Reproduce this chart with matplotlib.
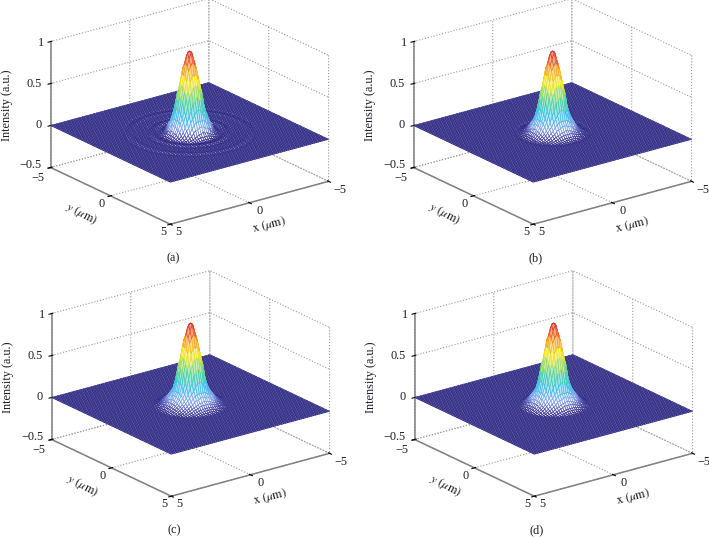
import numpy as np
import matplotlib
matplotlib.use("Agg")
import matplotlib.pyplot as plt
from matplotlib.colors import LinearSegmentedColormap

plt.rcParams['font.family'] = ['Liberation Serif', 'DejaVu Serif']
plt.rcParams['mathtext.fontset'] = 'stix'

W, H = 709, 537
panel_labels = ['(a)', '(b)', '(c)', '(d)']
panel_x = [49, 412, 50, 413]
panel_y = [125, 125, 397, 397]

# radial intensity profiles (r step = 0.05 um)
radial_step = 0.05
main_lobe = [.97,.965,.95,.93,.895,.855,.81,.76,.70,.64,.585,.525,.47,.41,.36,.31,.265,.225,.19]
profile_a = main_lobe + [.16,.13,.105,.08,.06,.045,.03,.02,.012,.006,.0,-.004,-.005,-.005,-.003,-.001,.001,.003,.004,.004,.003,.001,-.001,-.002,-.003,-.002,-.001,0,0,0,0,0,0,0,0,0,0,0,.001,.002,.003,.003,.002,.001,0,-.001,-.002,-.003,-.002,-.001,0]
profile_b = main_lobe + [.165,.14,.12,.10,.085,.07,.058,.047,.037,.028,.02,.014,.009,.005,.002,0,-.002,-.003,-.003,-.002,-.001,0]
profile_c = main_lobe + [.17,.15,.13,.115,.10,.088,.077,.066,.056,.047,.039,.031,.024,.018,.013,.009,.005,.002,0]
profile_d = main_lobe + [.17,.15,.13,.115,.10,.087,.075,.063,.052,.042,.033,.025,.018,.013,.008,.004,.001,0]
profiles = [profile_a, profile_b, profile_c, profile_d]

x_ticks = [-5, 0, 5]
y_ticks = [-5, 0, 5]
z_ticks = [-0.5, 0, 0.5, 1]
z_ticklabels = ['\u22120.5', '0', '0.5', '1']
xy_ticklabels = ['\u22125', '0', '5']

# label positions in pixels, relative to each panel's left corner at z = 0
x_label_pos = [(291, 65), (211, 86), (129, 107)]
y_label_pos = [(-11, 53), (53, 79), (114, 107)]
z_label_pos = [(-7, 40), (-7, 0), (-7, -41), (-5, -82)]

grid_axis = np.linspace(-5, 5, 81)

cmap = LinearSegmentedColormap.from_list('m', [
    (0.0, '#25207f'), (0.03, '#3a389e'), (0.10, '#7f9ee8'), (0.26, '#35c0ee'),
    (0.42, '#45d09a'), (0.55, '#c8e040'), (0.65, '#fbe51e'), (0.78, '#f79a20'),
    (0.92, '#e03a28'), (1.0, '#c8202a')])

fig = plt.figure(figsize=(W / 100, H / 100), dpi=100)
AX = 340
GRID = '#9a9a9a'
AXC = '#808080'
TC = '#1c1c28'
FS = 8.8

for i in range(4):
    cx = panel_x[i] + 140.5 - 4.5
    cy = panel_y[i] + 7 - 0.25 * 82.7 + 4.7
    ax = fig.add_axes([(cx - AX / 2) / W, 1 - (cy + AX / 2) / H, AX / W, AX / H],
                      projection='3d', proj_type='ortho')
    ax.patch.set_alpha(0)
    ax.view_init(elev=21, azim=52.9)
    ax.set_box_aspect((200, 200, 136), zoom=0.889)
    ax.set_xlim(-5, 5, view_margin=0)
    ax.set_ylim(-5, 5, view_margin=0)
    ax.set_zlim(-0.5, 1, view_margin=0)

    X, Y = np.meshgrid(grid_axis, grid_axis)
    prof = np.array(profiles[i])
    idx = np.rint(np.hypot(X, Y) / radial_step).astype(int)
    Z = np.where(idx < len(prof), prof[np.minimum(idx, len(prof) - 1)], 0.0)
    zc = np.clip(Z, 0, 1)
    surf = ax.plot_surface(X, Y, Z, rstride=1, cstride=1, facecolors=cmap(zc),
                           shade=False, linewidth=0.48, antialiased=True)
    cm = 0.25 * (zc[:-1, :-1] + zc[1:, :-1] + zc[:-1, 1:] + zc[1:, 1:])
    edge = cmap(cm).reshape(-1, 4)
    # faces: tinted toward white higher up, where the mesh reads as colour
    mix = np.clip((cm.ravel() - 0.10) / 0.2, 0, 1)[:, None] * 0.5
    face = edge.copy()
    face[:, :3] = edge[:, :3] * mix + (1 - mix)
    surf.set_edgecolor(edge)
    surf.set_facecolor(face)

    ax.set_xticks(x_ticks)
    ax.set_yticks(y_ticks)
    ax.set_zticks(z_ticks)
    for a in (ax.xaxis, ax.yaxis, ax.zaxis):
        a.set_major_formatter(plt.NullFormatter())
        a.set_pane_color((1, 1, 1, 0))
        a.pane.set_edgecolor((1, 1, 1, 0))
        a.line.set_color(AXC)
        a.line.set_linewidth(1.1)
        a._axinfo['grid'].update(color=GRID, linestyle=':', linewidth=0.8)
        a._axinfo['tick'].update(color=AXC)

    px, py = panel_x[i], panel_y[i]
    def T(dx, dy, s, ha='center', **k):
        fig.text((px + dx) / W, 1 - (py + dy) / H, s, ha=ha, va='center',
                 fontsize=FS, color=TC, **k)
    for (dx, dy), s in zip(x_label_pos, xy_ticklabels):
        T(dx, dy, s)
    for (dx, dy), s in zip(y_label_pos, xy_ticklabels):
        T(dx, dy, s)
    for (dx, dy), s in zip(z_label_pos, z_ticklabels):
        T(dx, dy, s, ha='right')
    T(-42, -20, 'Intensity (a.u.)', rotation=90)
    T(33, 89, '$y\\ (\\mu\\mathrm{m})$', rotation=-28)
    T(220, 100, '$\\mathrm{x}\\ (\\mu\\mathrm{m})$', rotation=14)
    T(124, 133, panel_labels[i])

fig.savefig('out.png', dpi=100)
